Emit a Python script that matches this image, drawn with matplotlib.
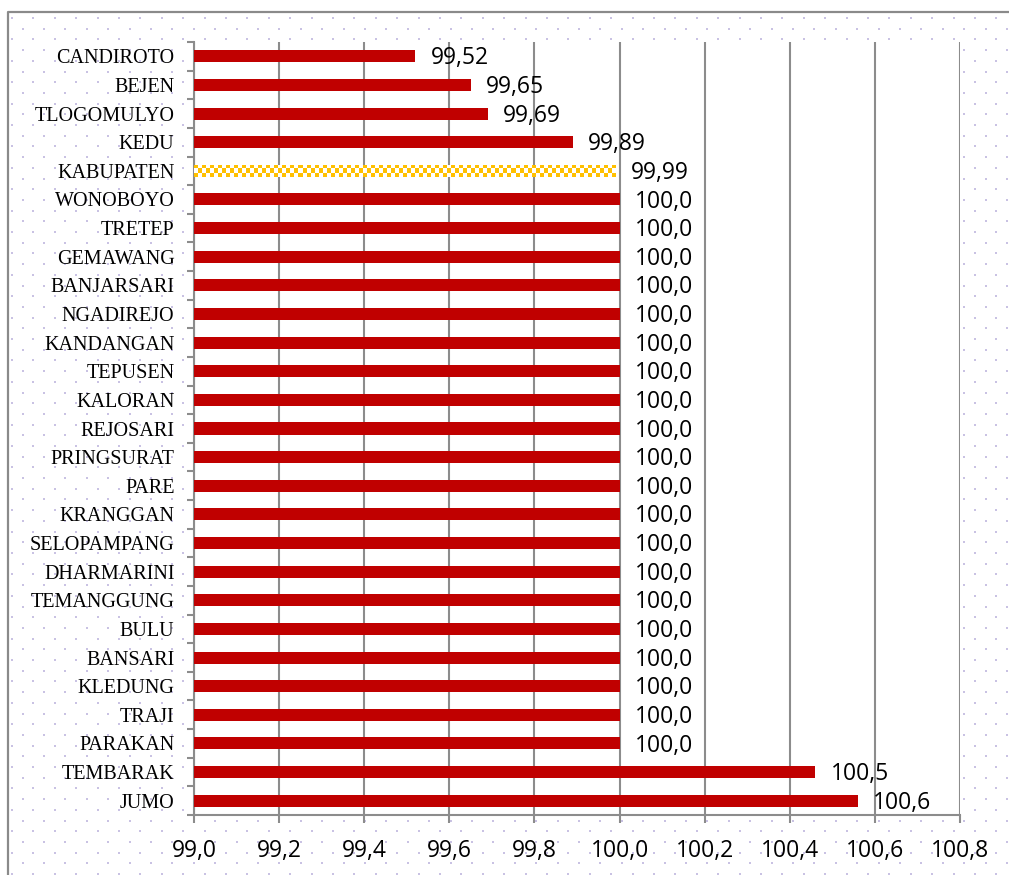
import numpy as np
import matplotlib
matplotlib.use("Agg")
import matplotlib.pyplot as plt
from matplotlib.ticker import FixedLocator

# Districts (top to bottom) and their values
districts = [
    "CANDIROTO", "BEJEN", "TLOGOMULYO", "KEDU", "KABUPATEN", "WONOBOYO",
    "TRETEP", "GEMAWANG", "BANJARSARI", "NGADIREJO", "KANDANGAN", "TEPUSEN",
    "KALORAN", "REJOSARI", "PRINGSURAT", "PARE", "KRANGGAN", "SELOPAMPANG",
    "DHARMARINI", "TEMANGGUNG", "BULU", "BANSARI", "KLEDUNG", "TRAJI",
    "PARAKAN", "TEMBARAK", "JUMO",
]
values = [
    99.52, 99.65, 99.69, 99.89, 99.99, 100.0,
    100.0, 100.0, 100.0, 100.0, 100.0, 100.0,
    100.0, 100.0, 100.0, 100.0, 100.0, 100.0,
    100.0, 100.0, 100.0, 100.0, 100.0, 100.0,
    100.0, 100.46, 100.56,
]
highlight = "KABUPATEN"
x_ticks = [99.0, 99.2, 99.4, 99.6, 99.8, 100.0, 100.2, 100.4, 100.6, 100.8]

RED = "#C00000"
GOLD = "#FFC000"
GRID = "#8C8C8C"
W, H = 1009, 875


def fmt4(v):
    """Four significant digits with a decimal comma."""
    decimals = max(0, 4 - len(str(int(abs(v)))))
    return f"{v:.{decimals}f}".replace(".", ",")


fig = plt.figure(figsize=(W / 100, H / 100), dpi=100)
fig.patch.set_facecolor("white")

# Chart-area backdrop: staggered lavender dots and the outer frame
bg = fig.add_axes([0, 0, 1, 1], zorder=0)
bg.set_xlim(0, W)
bg.set_ylim(H, 0)
bg.axis("off")
dx, dy = 21.4, 10.7
pts = []
for r, yy in enumerate(np.arange(18, H, dy)):
    x0 = 12 if r % 2 == 0 else 12 + dx / 2
    for xx in np.arange(x0, W, dx):
        pts.append((xx, yy))
pts = np.array(pts)
bg.scatter(pts[:, 0], pts[:, 1], s=2.2, color="#C9C2E3", marker="s", linewidths=0)
bg.plot([8, 8, W + 5], [H + 5, 12, 12], color="#8A8A8A", lw=1.6, solid_capstyle="butt")

ax = fig.add_axes([194 / W, (H - 815) / H, (960 - 194) / W, (815 - 42) / H], zorder=1)
ax.set_facecolor("white")

n = len(districts)
ypos = np.arange(n)
colors = [RED if d != highlight else "none" for d in districts]
bars = ax.barh(ypos, [v - x_ticks[0] for v in values], left=x_ticks[0], height=0.42,
               color=colors, edgecolor="none", zorder=3)

ax.set_xlim(x_ticks[0], x_ticks[-1])
ax.set_ylim(n - 0.5, -0.5)

# Checkerboard fill for the regency-wide bar
hi = districts.index(highlight)
hbar = bars[hi]
x0, x1 = x_ticks[0], values[hi]
px_per_unit = (960 - 194) / (x_ticks[-1] - x_ticks[0])
ncols = int(round((x1 - x0) * px_per_unit / 4.0))
nrows = 3
checker = (np.add.outer(np.arange(nrows), np.arange(ncols)) % 2).astype(float)
rgba = np.ones((nrows, ncols, 4))
gold = matplotlib.colors.to_rgba(GOLD)
rgba[checker == 0] = gold
yb, yt = hi - 0.21, hi + 0.21
im = ax.imshow(rgba, extent=(x0, x1, yt, yb), aspect="auto",
               interpolation="nearest", zorder=3)
im.set_clip_path(hbar)
ax.set_ylim(n - 0.5, -0.5)
ax.set_xlim(x_ticks[0], x_ticks[-1])

# Value labels
for y, v in zip(ypos, values):
    ax.annotate(fmt4(v), (v, y), xytext=(11, -1.5), textcoords="offset points",
                ha="left", va="center", fontsize=16.5, family="Open Sans",
                color="black", zorder=4)

# Axes styling
ax.xaxis.set_major_locator(FixedLocator(x_ticks))
ax.set_xticklabels([f"{t:.1f}".replace(".", ",") for t in x_ticks],
                   fontsize=16.5, family="Open Sans")
ax.grid(axis="x", color=GRID, lw=1.5, zorder=1)
ax.set_axisbelow(True)
ax.tick_params(axis="x", direction="out", length=6, width=1.5, color=GRID, pad=11)

ax.set_yticks(ypos)
ax.set_yticklabels(districts, fontsize=14.5, family="Liberation Serif")
ax.yaxis.set_minor_locator(FixedLocator(np.arange(-0.5, n, 1.0)))
ax.tick_params(axis="y", which="major", length=0, pad=14)
ax.tick_params(axis="y", which="minor", direction="out", length=5, width=1.5, color=GRID)

for s in ("top", "right"):
    ax.spines[s].set_visible(False)
for s in ("left", "bottom"):
    ax.spines[s].set_color(GRID)
    ax.spines[s].set_linewidth(1.5)

fig.savefig("out.png", dpi=100, facecolor="white")
